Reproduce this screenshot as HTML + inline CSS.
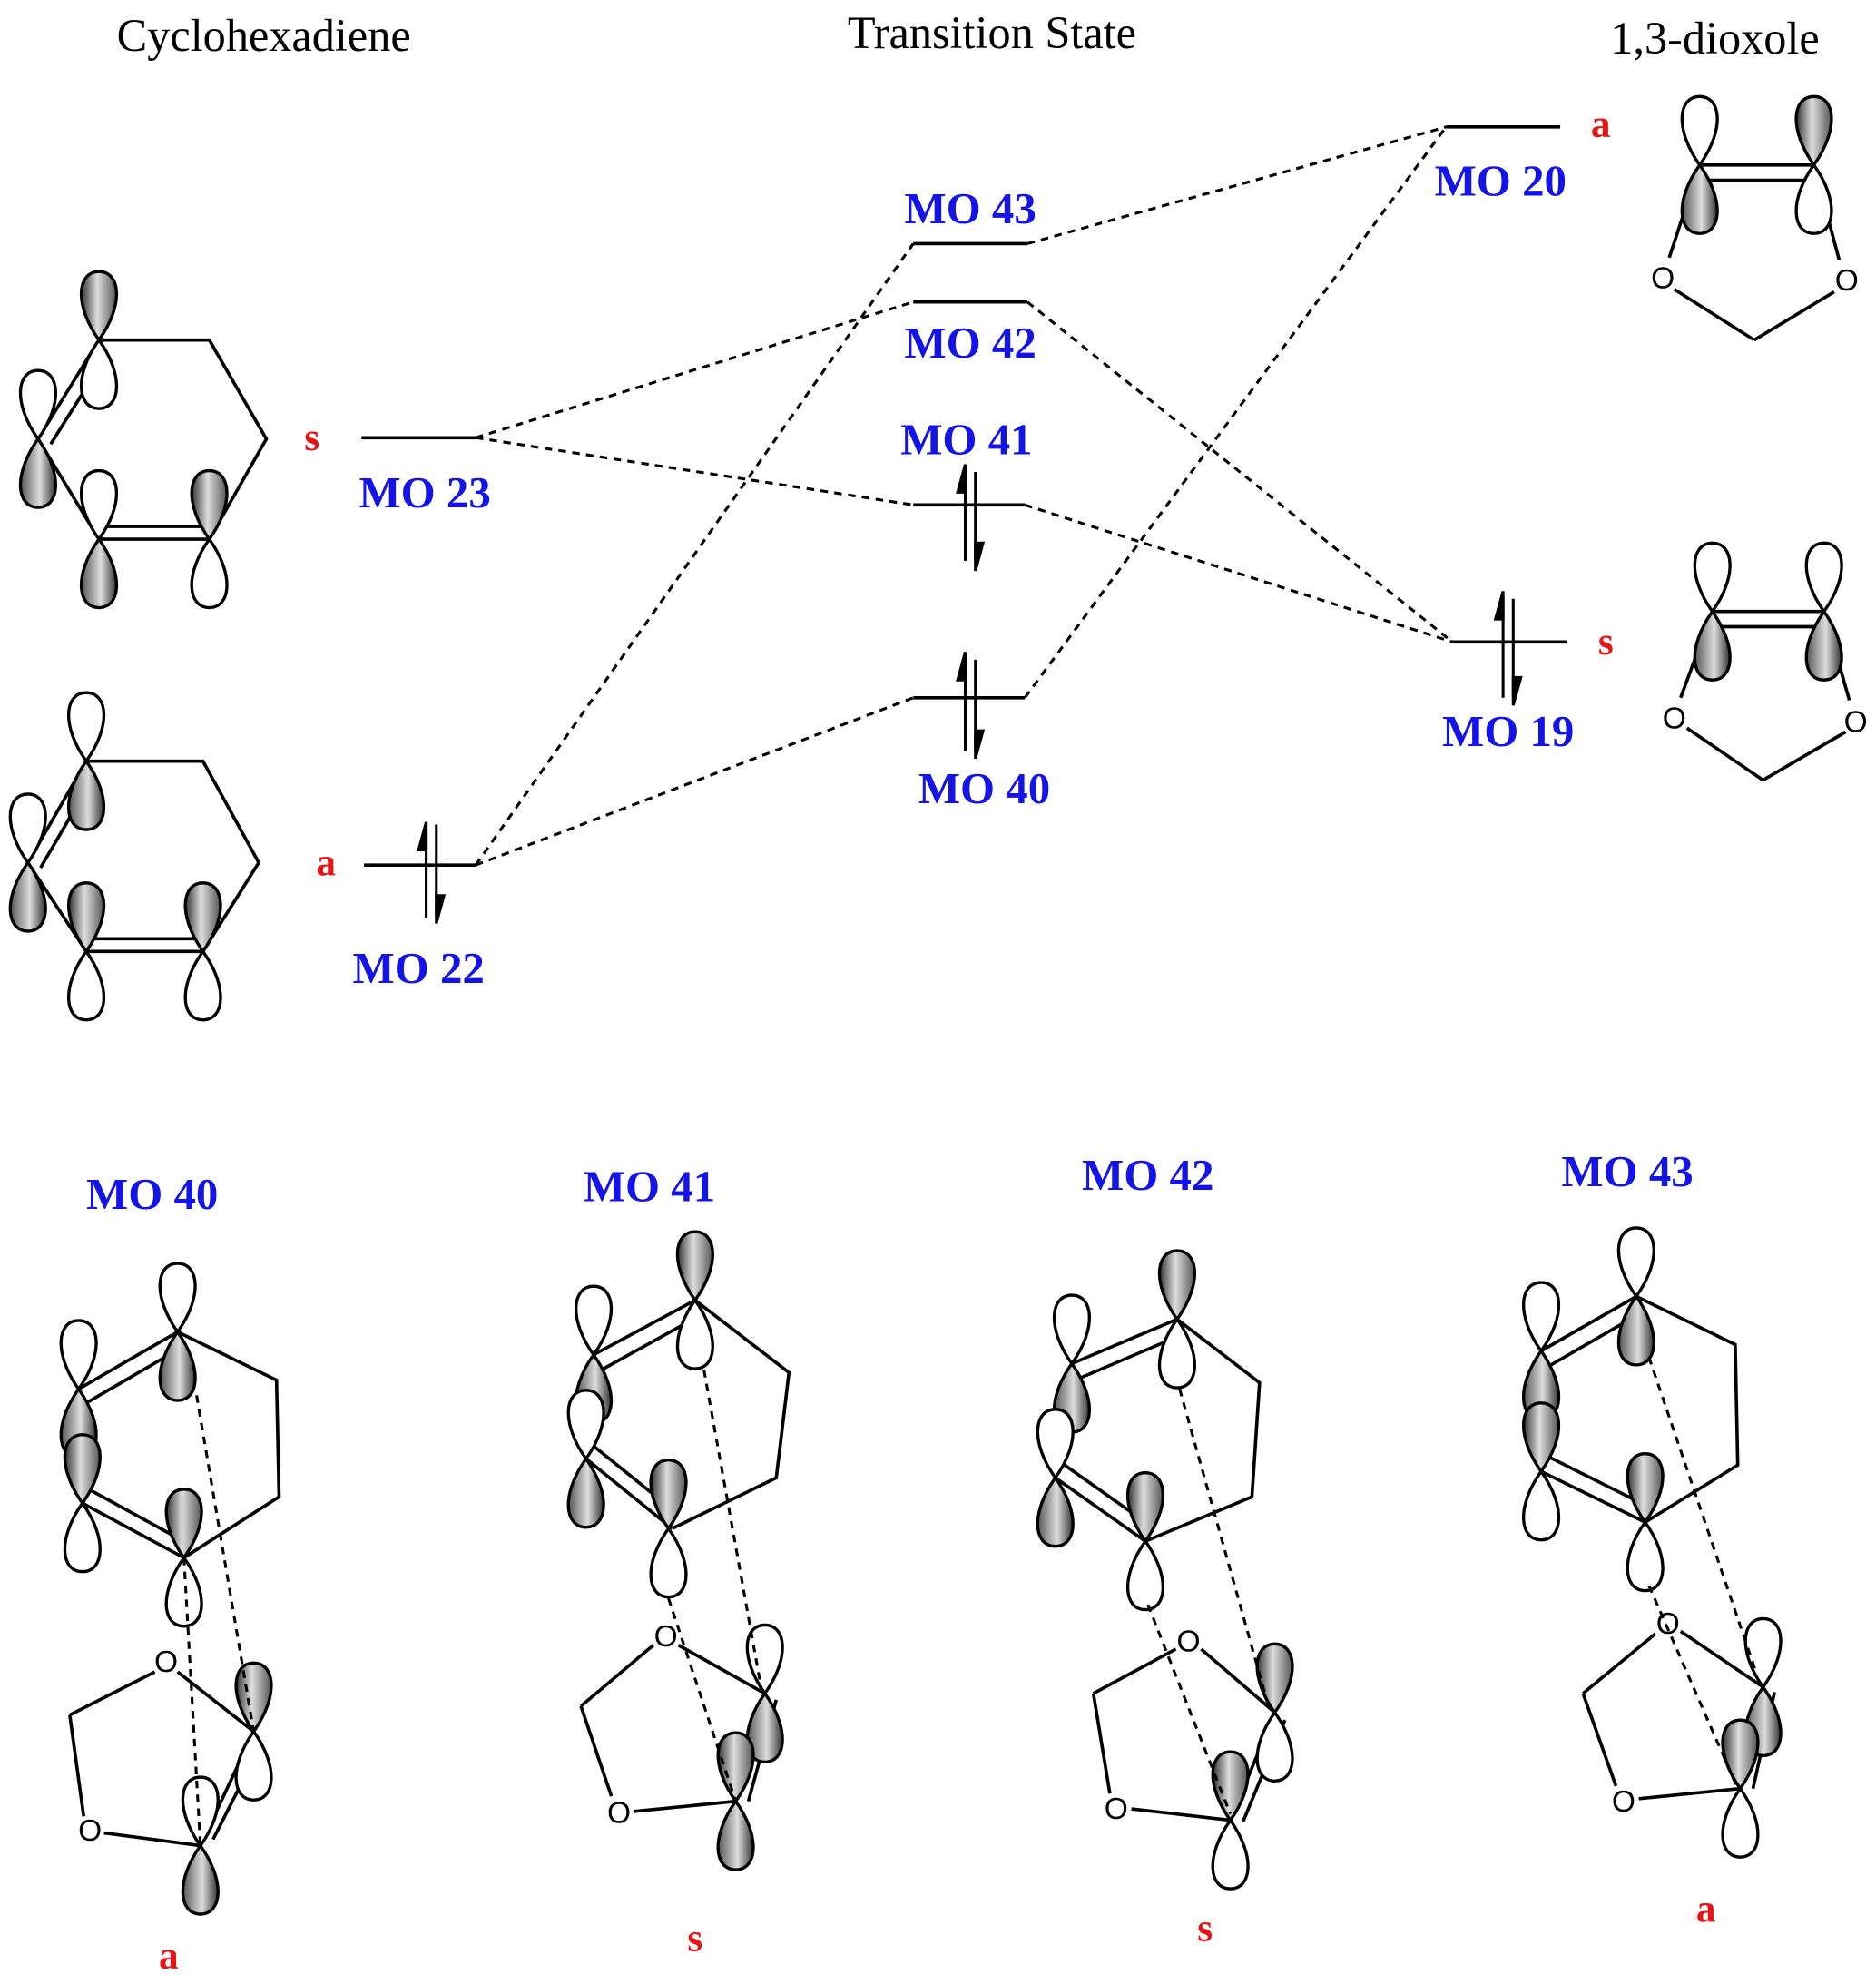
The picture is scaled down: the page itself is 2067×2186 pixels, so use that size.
<!DOCTYPE html>
<html><head><meta charset="utf-8">
<style>
html,body{margin:0;padding:0;background:#fff;}
svg{display:block;}
.t{font-family:"Liberation Serif",serif;font-size:36px;fill:#000;text-anchor:middle;}
.b{font-family:"Liberation Serif",serif;font-size:35px;font-weight:bold;fill:#1414e6;text-anchor:middle;}
.r{font-family:"Liberation Serif",serif;font-size:31px;font-weight:bold;fill:#e61414;text-anchor:middle;}
.bd{stroke:#000;stroke-width:2.6;fill:none;}
.ds{stroke:#000;stroke-width:2.2;stroke-dasharray:6,5;fill:none;}
.lv{stroke:#000;stroke-width:2.6;}
.o{font-family:"Liberation Sans",sans-serif;font-size:24px;fill:#000;text-anchor:middle;}
</style></head><body>
<svg width="2067" height="2186" viewBox="0 0 1479 1564" xmlns="http://www.w3.org/2000/svg">
<defs>
<linearGradient id="gr" x1="0" x2="1"><stop offset="0" stop-color="#333"/><stop offset="0.45" stop-color="#ddd"/><stop offset="1" stop-color="#555"/></linearGradient>
<path id="w" d="M0,0 C-20,-28 -17,-54 0,-54 C17,-54 20,-28 0,0Z" fill="#fff" stroke="#000" stroke-width="2.4"/>
<path id="g" d="M0,0 C-20,-28 -17,-54 0,-54 C17,-54 20,-28 0,0Z" fill="url(#gr)" stroke="#000" stroke-width="2.4"/>
</defs>

<text class="t" x="208" y="40">Cyclohexadiene</text>
<text class="t" x="782" y="38">Transition State</text>
<text class="t" x="1352" y="42">1,3-dioxole</text>

<!-- Cyclohexadiene 1 -->
<g>
<polyline class="bd" points="78,268 165,268 210,346 165,425"/>
<line class="bd" x1="30" y1="346" x2="78" y2="268"/><line class="bd" x1="40" y1="350" x2="84" y2="280"/>
<line class="bd" x1="30" y1="346" x2="78" y2="425"/>
<line class="bd" x1="78" y1="425" x2="165" y2="425"/><line class="bd" x1="82" y1="415" x2="160" y2="415"/>
<use href="#g" x="78" y="268"/><use href="#w" transform="translate(78,268) rotate(180)"/>
<use href="#w" x="30" y="346"/><use href="#g" transform="translate(30,346) rotate(180)"/>
<use href="#w" x="78" y="425"/><use href="#g" transform="translate(78,425) rotate(180)"/>
<use href="#g" x="165" y="425"/><use href="#w" transform="translate(165,425) rotate(180)"/>
</g>
<!-- Cyclohexadiene 2 -->
<g>
<polyline class="bd" points="68,600 160,600 204,680 160,750"/>
<line class="bd" x1="22" y1="680" x2="68" y2="600"/><line class="bd" x1="32" y1="684" x2="74" y2="612"/>
<line class="bd" x1="22" y1="680" x2="68" y2="750"/>
<line class="bd" x1="68" y1="750" x2="160" y2="750"/><line class="bd" x1="72" y1="740" x2="156" y2="740"/>
<use href="#w" x="68" y="600"/><use href="#g" transform="translate(68,600) rotate(180)"/>
<use href="#w" x="22" y="680"/><use href="#g" transform="translate(22,680) rotate(180)"/>
<use href="#g" x="68" y="750"/><use href="#w" transform="translate(68,750) rotate(180)"/>
<use href="#g" x="160" y="750"/><use href="#w" transform="translate(160,750) rotate(180)"/>
</g>

<!-- Dioxole top -->
<g>
<line class="bd" x1="1340" y1="130" x2="1430" y2="130"/><line class="bd" x1="1344" y1="142" x2="1426" y2="142"/>
<line class="bd" x1="1340" y1="130" x2="1316" y2="203"/><line class="bd" x1="1430" y1="130" x2="1450" y2="205"/>
<line class="bd" x1="1320" y1="228" x2="1383" y2="268"/><line class="bd" x1="1446" y1="230" x2="1383" y2="268"/>
<text class="o" x="1311" y="227">O</text><text class="o" x="1456" y="229">O</text>
<use href="#w" x="1340" y="130"/><use href="#g" transform="translate(1340,130) rotate(180)"/>
<use href="#g" x="1430" y="130"/><use href="#w" transform="translate(1430,130) rotate(180)"/>
</g>
<!-- Dioxole bottom -->
<g>
<line class="bd" x1="1350" y1="482" x2="1438" y2="482"/><line class="bd" x1="1354" y1="494" x2="1434" y2="494"/>
<line class="bd" x1="1350" y1="482" x2="1325" y2="550"/><line class="bd" x1="1438" y1="482" x2="1458" y2="552"/>
<line class="bd" x1="1330" y1="574" x2="1390" y2="615"/><line class="bd" x1="1455" y1="577" x2="1390" y2="615"/>
<text class="o" x="1320" y="574">O</text><text class="o" x="1463" y="577">O</text>
<use href="#w" x="1350" y="482"/><use href="#g" transform="translate(1350,482) rotate(180)"/>
<use href="#w" x="1438" y="482"/><use href="#g" transform="translate(1438,482) rotate(180)"/>
</g>

<!-- levels -->
<line class="lv" x1="285" y1="345" x2="375" y2="345"/>
<line class="lv" x1="287" y1="682" x2="375" y2="682"/>
<line class="lv" x1="720" y1="192" x2="810" y2="192"/>
<line class="lv" x1="720" y1="238" x2="810" y2="238"/>
<line class="lv" x1="720" y1="398" x2="808" y2="398"/>
<line class="lv" x1="720" y1="550" x2="808" y2="550"/>
<line class="lv" x1="1140" y1="100" x2="1230" y2="100"/>
<line class="lv" x1="1145" y1="506" x2="1235" y2="506"/>

<!-- electrons -->
<g stroke="#000" stroke-width="2.2" fill="#000">
<line x1="336" y1="724" x2="336" y2="652"/><path d="M336,648 L330,670 L336,670Z"/>
<line x1="344" y1="650" x2="344" y2="722"/><path d="M344,728 L350,706 L344,706Z"/>
<line x1="761" y1="442" x2="761" y2="370"/><path d="M761,366 L755,388 L761,388Z"/>
<line x1="769" y1="372" x2="769" y2="444"/><path d="M769,450 L775,428 L769,428Z"/>
<line x1="761" y1="592" x2="761" y2="518"/><path d="M761,514 L755,536 L761,536Z"/>
<line x1="769" y1="520" x2="769" y2="592"/><path d="M769,598 L775,576 L769,576Z"/>
<line x1="1185" y1="550" x2="1185" y2="470"/><path d="M1185,466 L1179,488 L1185,488Z"/>
<line x1="1193" y1="472" x2="1193" y2="550"/><path d="M1193,556 L1199,534 L1193,534Z"/>
</g>

<!-- dashed correlation lines -->
<line class="ds" x1="375" y1="345" x2="720" y2="238"/>
<line class="ds" x1="375" y1="345" x2="720" y2="398"/>
<line class="ds" x1="375" y1="682" x2="720" y2="192"/>
<line class="ds" x1="375" y1="682" x2="720" y2="550"/>
<line class="ds" x1="810" y1="192" x2="1140" y2="100"/>
<line class="ds" x1="808" y1="550" x2="1140" y2="100"/>
<line class="ds" x1="810" y1="238" x2="1145" y2="506"/>
<line class="ds" x1="808" y1="398" x2="1145" y2="506"/>

<!-- labels -->
<text class="b" x="335" y="400">MO 23</text>
<text class="b" x="330" y="775">MO 22</text>
<text class="b" x="765" y="176">MO 43</text>
<text class="b" x="765" y="282">MO 42</text>
<text class="b" x="762" y="358">MO 41</text>
<text class="b" x="776" y="633">MO 40</text>
<text class="b" x="1183" y="154">MO 20</text>
<text class="b" x="1189" y="588">MO 19</text>
<text class="r" x="246" y="355">s</text>
<text class="r" x="257" y="690">a</text>
<text class="r" x="1262" y="108">a</text>
<text class="r" x="1266" y="516">s</text>

<!-- bottom MO40 -->
<g>
<polyline class="bd" points="140,1050 218,1088 220,1180 145,1228"/>
<line class="bd" x1="62" y1="1095" x2="140" y2="1050"/><line class="bd" x1="68" y1="1106" x2="142" y2="1063"/>
<line class="bd" x1="62" y1="1095" x2="65" y2="1185"/>
<line class="bd" x1="65" y1="1185" x2="145" y2="1228"/><line class="bd" x1="70" y1="1174" x2="143" y2="1214"/>
<line class="bd" x1="122" y1="1318" x2="55" y2="1352"/><line class="bd" x1="55" y1="1352" x2="66" y2="1432"/>
<line class="bd" x1="82" y1="1445" x2="158" y2="1455"/><line class="bd" x1="140" y1="1318" x2="200" y2="1365"/>
<line class="bd" x1="158" y1="1455" x2="200" y2="1365"/><line class="bd" x1="168" y1="1450" x2="206" y2="1375"/>
<text class="o" x="131" y="1318">O</text><text class="o" x="71" y="1451">O</text>
<use href="#w" x="140" y="1050"/><use href="#g" transform="translate(140,1050) rotate(180)"/>
<use href="#w" x="62" y="1095"/><use href="#g" transform="translate(62,1095) rotate(180)"/>
<use href="#g" x="65" y="1185"/><use href="#w" transform="translate(65,1185) rotate(180)"/>
<use href="#g" x="145" y="1228"/><use href="#w" transform="translate(145,1228) rotate(180)"/>
<use href="#g" x="200" y="1365"/><use href="#w" transform="translate(200,1365) rotate(180)"/>
<use href="#w" x="158" y="1455"/><use href="#g" transform="translate(158,1455) rotate(180)"/>
<line class="ds" x1="155" y1="1100" x2="200" y2="1365"/>
<line class="ds" x1="145" y1="1228" x2="158" y2="1455"/>
</g>
<!-- bottom MO41 -->
<g>
<polyline class="bd" points="548,1025 622,1082 612,1165 530,1205"/>
<line class="bd" x1="468" y1="1068" x2="548" y2="1025"/><line class="bd" x1="474" y1="1080" x2="550" y2="1038"/>
<line class="bd" x1="468" y1="1068" x2="462" y2="1150"/>
<line class="bd" x1="462" y1="1150" x2="530" y2="1205"/><line class="bd" x1="468" y1="1140" x2="530" y2="1190"/>
<line class="bd" x1="515" y1="1297" x2="458" y2="1345"/><line class="bd" x1="458" y1="1345" x2="482" y2="1416"/>
<line class="bd" x1="500" y1="1428" x2="580" y2="1420"/><line class="bd" x1="535" y1="1297" x2="603" y2="1335"/>
<line class="bd" x1="580" y1="1420" x2="603" y2="1335"/><line class="bd" x1="590" y1="1420" x2="612" y2="1340"/>
<text class="o" x="525" y="1298">O</text><text class="o" x="488" y="1437">O</text>
<use href="#g" x="548" y="1025"/><use href="#w" transform="translate(548,1025) rotate(180)"/>
<use href="#w" x="468" y="1068"/><use href="#g" transform="translate(468,1068) rotate(180)"/>
<use href="#w" x="462" y="1150"/><use href="#g" transform="translate(462,1150) rotate(180)"/>
<use href="#g" x="527" y="1205"/><use href="#w" transform="translate(527,1205) rotate(180)"/>
<use href="#w" x="603" y="1335"/><use href="#g" transform="translate(603,1335) rotate(180)"/>
<use href="#g" x="580" y="1420"/><use href="#g" transform="translate(580,1420) rotate(180)"/>
<line class="ds" x1="555" y1="1080" x2="600" y2="1330"/>
<line class="ds" x1="527" y1="1260" x2="580" y2="1420"/>
</g>
<!-- bottom MO42 -->
<g>
<polyline class="bd" points="928,1040 993,1090 987,1180 903,1215"/>
<line class="bd" x1="845" y1="1075" x2="928" y2="1040"/><line class="bd" x1="850" y1="1087" x2="930" y2="1053"/>
<line class="bd" x1="845" y1="1075" x2="832" y2="1165"/>
<line class="bd" x1="832" y1="1165" x2="903" y2="1215"/><line class="bd" x1="838" y1="1154" x2="903" y2="1200"/>
<line class="bd" x1="927" y1="1300" x2="862" y2="1335"/><line class="bd" x1="862" y1="1335" x2="875" y2="1414"/>
<line class="bd" x1="892" y1="1426" x2="970" y2="1435"/><line class="bd" x1="947" y1="1300" x2="1005" y2="1350"/>
<line class="bd" x1="970" y1="1435" x2="1005" y2="1350"/><line class="bd" x1="980" y1="1436" x2="1013" y2="1356"/>
<text class="o" x="937" y="1302">O</text><text class="o" x="880" y="1434">O</text>
<use href="#g" x="928" y="1040"/><use href="#w" transform="translate(928,1040) rotate(180)"/>
<use href="#w" x="845" y="1075"/><use href="#g" transform="translate(845,1075) rotate(180)"/>
<use href="#w" x="832" y="1165"/><use href="#g" transform="translate(832,1165) rotate(180)"/>
<use href="#g" x="903" y="1215"/><use href="#w" transform="translate(903,1215) rotate(180)"/>
<use href="#g" x="1005" y="1350"/><use href="#w" transform="translate(1005,1350) rotate(180)"/>
<use href="#g" x="970" y="1435"/><use href="#w" transform="translate(970,1435) rotate(180)"/>
<line class="ds" x1="930" y1="1095" x2="1000" y2="1345"/>
<line class="ds" x1="905" y1="1265" x2="970" y2="1430"/>
</g>
<!-- bottom MO43 -->
<g>
<polyline class="bd" points="1290,1022 1368,1060 1370,1155 1297,1200"/>
<line class="bd" x1="1215" y1="1065" x2="1290" y2="1022"/><line class="bd" x1="1221" y1="1077" x2="1292" y2="1036"/>
<line class="bd" x1="1215" y1="1065" x2="1215" y2="1160"/>
<line class="bd" x1="1215" y1="1160" x2="1297" y2="1200"/><line class="bd" x1="1220" y1="1148" x2="1296" y2="1186"/>
<line class="bd" x1="1305" y1="1288" x2="1248" y2="1335"/><line class="bd" x1="1248" y1="1335" x2="1274" y2="1408"/>
<line class="bd" x1="1292" y1="1418" x2="1372" y2="1410"/><line class="bd" x1="1325" y1="1286" x2="1390" y2="1330"/>
<line class="bd" x1="1372" y1="1410" x2="1390" y2="1330"/><line class="bd" x1="1382" y1="1410" x2="1399" y2="1334"/>
<text class="o" x="1315" y="1288">O</text><text class="o" x="1280" y="1428">O</text>
<use href="#w" x="1290" y="1022"/><use href="#g" transform="translate(1290,1022) rotate(180)"/>
<use href="#w" x="1215" y="1065"/><use href="#g" transform="translate(1215,1065) rotate(180)"/>
<use href="#g" x="1215" y="1160"/><use href="#w" transform="translate(1215,1160) rotate(180)"/>
<use href="#g" x="1297" y="1200"/><use href="#w" transform="translate(1297,1200) rotate(180)"/>
<use href="#w" x="1390" y="1330"/><use href="#g" transform="translate(1390,1330) rotate(180)"/>
<use href="#g" x="1372" y="1410"/><use href="#w" transform="translate(1372,1410) rotate(180)"/>
<line class="ds" x1="1300" y1="1070" x2="1385" y2="1320"/>
<line class="ds" x1="1300" y1="1250" x2="1370" y2="1410"/>
</g>

<text class="b" x="120" y="953">MO 40</text>
<text class="b" x="512" y="947">MO 41</text>
<text class="b" x="905" y="938">MO 42</text>
<text class="b" x="1283" y="935">MO 43</text>
<text class="r" x="133" y="1552">a</text>
<text class="r" x="548" y="1538">s</text>
<text class="r" x="950" y="1530">s</text>
<text class="r" x="1345" y="1515">a</text>
</svg>
</body></html>
